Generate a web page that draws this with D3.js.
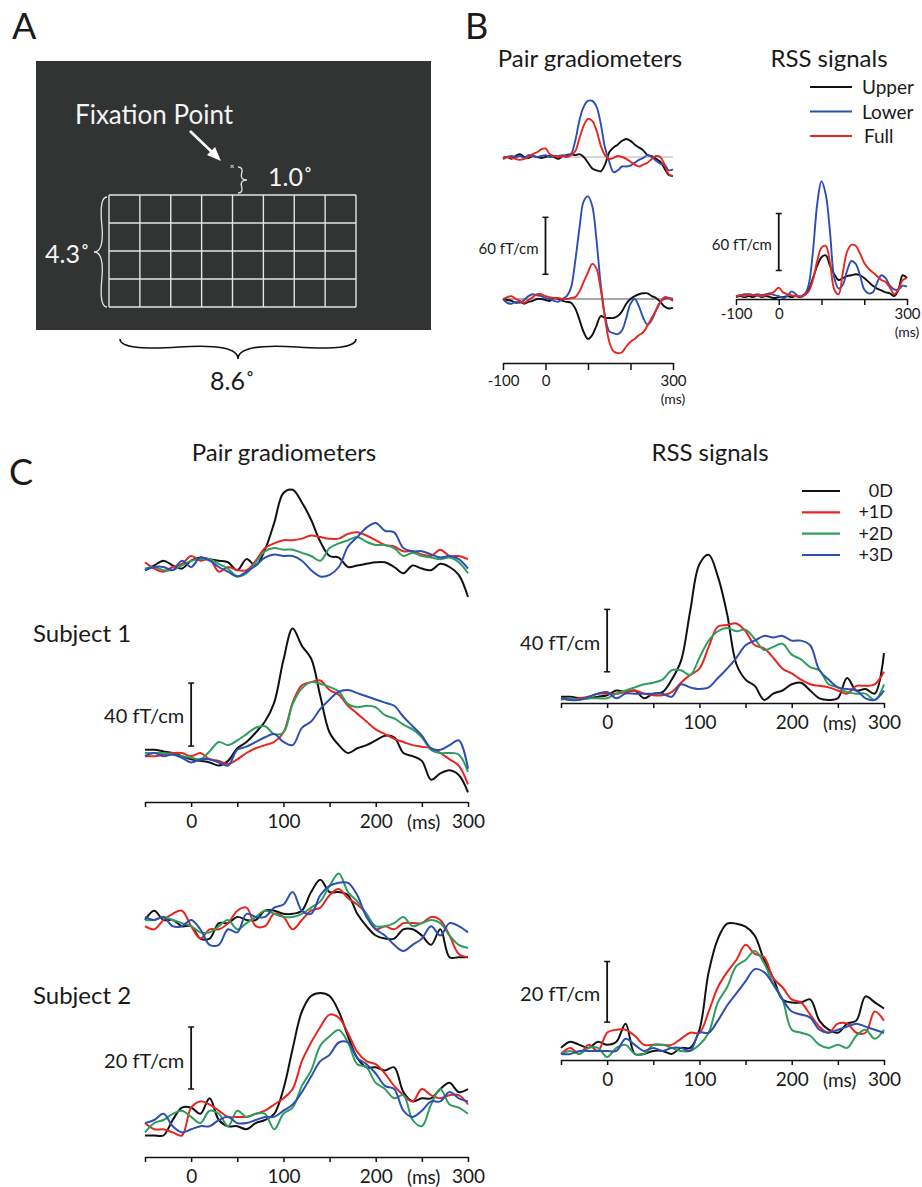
<!DOCTYPE html>
<html>
<head>
<meta charset="utf-8">
<script src="https://cdn.jsdelivr.net/npm/d3@7"></script>
<style>
  body { margin: 0; background: #fff; }
  text { font-family: Lato, "Open Sans", sans-serif; fill: #1a1a1a; }
</style>
</head>
<body>
<svg id="fig" width="922" height="1187"></svg>
<script>
// ---- data: stimulus grid (panel A)
var gridCols = 8;
var gridRows = 4;

// ---- data: panel B, sampled every 10 ms
var timesB = [-100,-90,-80,-70,-60,-50,-40,-30,-20,-10,0,10,20,30,40,50,60,70,80,90,100,110,120,130,140,150,160,170,180,190,200,210,220,230,240,250,260,270,280,290,300];
var bLabels = ["Upper", "Lower", "Full"];
var bColors = ["#111111", "#2d4fb4", "#e8261f"];

var bUpperBlack = [-1,0,-2,1,3,0,-1,1,0,-1, 0,1,0,-2,1,2,3,2,3,0, -6,-12,-14,-15,-8,5,10,13,17,19, 17,13,10,7,2,1,-2,-5,-12,-19, -20];
var bUpperBlue  = [-2,0,1,0,1,-1,2,1,0,1, 2,0,1,1,2,1,3,17,39,53, 59,59,53,35,10,-5,-16,-14,-10,-10, -9,-6,-3,-1,2,0,-4,-7,-8,-14, -13];
var bUpperRed   = [-2,0,-1,-2,-3,-2,0,3,5,8, 9,3,1,0,1,0,2,6,20,33, 40,38,28,12,2,-2,-1,1,0,-2, -5,-8,-10,-8,-6,-2,1,0,-8,-18, -20];

var bLowerBlack = [0,-1,-2,-4,-3,-5,-3,-2,0,0, -1,-2,1,0,-2,-3,-4,-10,-22,-35, -42,-38,-28,-18,-20,-20,-20,-18,-13,-5, 0,3,5,6,6,3,1,-3,-8,-10, -9];
var bLowerBlue  = [0,-4,-5,-3,-4,-1,3,5,4,3, 1,0,-2,-3,0,3,12,40,75,103, 108,98,62,15,-18,-34,-36,-37,-33,-20, -5,0,-8,-20,-27,-22,-12,-3,0,1, 0];
var bLowerRed   = [0,2,3,0,-2,-4,-1,2,5,5, 3,2,1,1,0,0,1,2,8,18, 28,37,32,10,-20,-45,-55,-57,-56,-50, -45,-42,-38,-35,-28,-20,-12,-4,2,1, -2];

var bRssBlack = [2,3,2,3,2,4,2,3,2,1, 2,2,3,2,3,2,5,10,22,35, 44,46,35,26,20,22,24,25,26,25, 22,18,14,11,9,7,6,3,10,25, 22];
var bRssBlue  = [3,4,5,5,4,5,4,5,6,4, 3,1,3,8,5,2,4,15,50,100, 124,110,70,22,11,15,30,40,37,25, 10,6,7,17,25,22,14,10,10,14, 13];
var bRssRed   = [3,4,3,5,4,4,3,4,5,8, 12,7,5,4,3,3,4,8,20,40, 54,56,38,10,5,28,50,57,56,48, 38,32,28,24,20,18,12,5,10,20, 22];

var bTicks = [-100, 0, 100, 200, 300];
var bTickLabels = ["-100", "0", "", "", "300"];

// ---- data: panel C, sampled every 10 ms
var timesC = [-50,-40,-30,-20,-10,0,10,20,30,40,50,60,70,80,90,100,110,120,130,140,150,160,170,180,190,200,210,220,230,240,250,260,270,280,290,300];
var cLabels = ["0D", "+1D", "+2D", "+3D"];
var cColors = ["#111111", "#e8261f", "#2e9e5e", "#2d4fb4"];

// subject 1, gradiometer pair (upper / lower channel)
var c1UpperK = [-2,1,4,1,-1, 4,6,5,4,3, -2,5,1,11,28, 47,49,41,30,16, 7,6,0,1,2, 3,3,0,-4,1, -1,-2,2,0,-5, -19];
var c1UpperR = [3,-1,-3,0,2, 7,4,5,-3,0, -2,-2,4,12,15, 17,17,18,20,19, 18,18,21,22,20, 17,14,13,10,10, 8,7,11,7,7, 5];
var c1UpperG = [-1,0,-2,-2,1, 4,5,5,2,-1, -6,-4,3,10,12, 11,11,9,7,4, 12,15,17,19,16, 14,14,12,7,9, 7,6,5,6,3, -4];
var c1UpperB = [-2,0,0,-2,4, 0,6,4,0,-3, -6,-3,1,6,8, 7,7,4,-2,-6, -5,0,13,19,25, 28,23,22,12,10, 10,8,6,7,5, -1];

var c1LowerK = [2,2,1,0,-2, -4,-5,-6,-8,-5, 3,7,13,20,32, 59,79,68,60,36, 13,5,0,3,5, 8,11,10,0,-2, -5,-17,-13,-11,-14, -25];
var c1LowerR = [-2,-2,-1,0,0, -2,0,-4,-5,-7, -4,0,3,5,7, 13,32,43,45,46, 40,37,30,25,20, 15,12,9,7,5, 4,3,0,-4,-8, -20];
var c1LowerG = [0,0,0,-1,-2, -3,-4,1,7,5, 8,12,16,17,12, 13,31,41,45,44, 42,39,31,29,30, 29,24,22,18,15, 10,2,0,0,-1, -12];
var c1LowerB = [-2,0,-2,-1,-3, -6,-4,-4,-6,-8, 2,4,7,10,12, 7,5,16,20,28, 34,39,40,38,36, 34,32,30,23,17, 11,3,2,5,8, -10];

// subject 1, RSS
var c1RssK = [4,4,3,3,4, 5,8,7,8,3, 6,7,15,27,59, 89,95,81,57,25, 15,11,2,6,8, 12,13,8,3,2, 3,16,8,9,6, 32];
var c1RssR = [3,2,3,4,6, 6,6,7,8,6, 5,5,7,13,18, 22,36,49,50,51, 46,37,35,29,22, 19,15,12,11,10, 8,6,11,11,12, 20];
var c1RssG = [2,3,2,3,3, 3,6,8,10,12, 13,15,21,21,18, 29,40,46,48,46, 47,41,34,36,38, 31,28,23,21,12, 10,7,6,6,2, 12];
var c1RssB = [3,2,2,4,6, 7,3,6,6,6, 6,6,4,12,10, 9,10,16,22,29, 37,40,43,42,43, 40,40,37,21,15, 10,9,8,3,2, 8];

// subject 2, gradiometer pair
var c2UpperK = [0,3,0,0,-2, -2,-6,-6,-1,-1, 1,0,0,3,3, 2,2,3,9,13, 9,9,8,2,-2, -5,-6,-6,-3,-3, -5,-8,-3,-12,-12, -12];
var c2UpperR = [-2,-3,0,2,3, -2,-6,-3,-3,-1, 3,4,-2,-2,2, 1,-3,0,3,4, 8,10,7,5,2, -3,-2,-3,-1,-1, -1,1,0,-5,-11, -12];
var c2UpperG = [0,0,1,0,-1, -2,-4,-4,-2,0, -3,-1,1,3,2, 1,1,2,4,6, 11,15,9,6,2, -2,-2,-1,1,-2, -1,0,-1,-5,-8, -9];
var c2UpperB = [1,0,1,-2,-2, 0,-3,-8,-8,-3, -4,2,1,1,4, 5,9,3,2,8, 11,12,12,8,1, -3,-5,-8,-10,-8, -6,-2,-5,-1,-2, -4];

var c2LowerK = [-5,-5,-5,0,4, 4,2,7,0,-2, -2,-3,-1,0,2, 10,23,35,40,41, 40,35,27,20,17, 17,16,17,9,6, 7,7,10,12,9, 10];
var c2LowerR = [-1,-3,-3,-4,-5, 4,6,5,3,1, 1,1,2,3,5, 7,10,19,25,30, 34,33,28,22,19, 18,15,11,8,6, 10,8,7,8,8, 5];
var c2LowerG = [-4,-1,0,2,3, 1,-1,3,2,-2, 3,1,2,2,-3, 2,4,11,16,24, 27,29,25,18,17, 12,10,7,8,0, -2,5,10,5,4, 2];
var c2LowerB = [-1,0,2,-2,-4, -3,-2,-2,0,1, -1,-1,0,1,1, 3,5,9,14,19, 21,25,25,20,18, 15,11,10,3,1, 3,6,6,9,7, 6];

// subject 2, RSS
var c2RssK = [4,6,5,4,6, 5,6,12,2,2, 3,3,2,4,4, 10,29,40,45,45, 44,41,33,27,20, 19,19,20,13,10, 9,12,13,21,19, 17];
var c2RssR = [2,4,2,5,3, 9,10,10,8,5, 5,5,5,7,9, 9,16,24,29,33, 38,35,34,27,24, 20,19,15,11,9, 12,12,9,9,16, 13];
var c2RssG = [2,3,2,4,4, 1,4,5,2,2, 5,5,4,3,3, 5,9,19,24,31, 33,36,32,25,20, 10,9,8,5,4, 5,4,8,10,7, 10];
var c2RssB = [2,2,3,3,3, 3,3,7,5,3, 4,3,4,4,3, 9,9,13,18,22, 26,30,29,25,20, 16,15,14,10,9, 10,11,12,11,10, 9];

var cTicks = [-50, 0, 50, 100, 150, 200, 250, 300];
var cTickLabels = ["", "0", "", "100", "", "200", "", "300"];

var svg = d3.select("#fig");

// ---------- helpers
function drawTraces(xs, ys, times, seriesList, colors, width) {
    var line = d3.line()
        .x(function (d, i) { return xs(times[i]); })
        .y(function (d) { return ys(d); })
        .curve(d3.curveCatmullRom.alpha(0.5));
    seriesList.forEach(function (s, i) {
        svg.append("path")
            .datum(s)
            .attr("d", line)
            .attr("fill", "none")
            .attr("stroke", colors[i])
            .attr("stroke-width", width)
            .attr("stroke-linejoin", "round");
    });
}

function drawAxis(y, xs, ticks, labels, tickLen, pad, fontSize) {
    var g = svg.append("g")
        .attr("transform", "translate(0," + y + ")")
        .call(d3.axisBottom(xs)
            .tickValues(ticks)
            .tickSize(tickLen)
            .tickSizeOuter(0)
            .tickPadding(pad)
            .tickFormat(function (d, i) { return labels[i]; }));
    g.attr("font-family", "Lato").attr("font-size", fontSize);
    g.select(".domain").attr("stroke", "#111").attr("stroke-width", 1.5);
    g.selectAll(".tick line").attr("stroke", "#111").attr("stroke-width", 1.5);
    g.selectAll(".tick text").attr("fill", "#1a1a1a");
    return g;
}

function scaleBar(x, ys, v0, v1, label, labelY, fontSize) {
    svg.append("line")
        .attr("x1", x).attr("x2", x)
        .attr("y1", ys(v0)).attr("y2", ys(v1))
        .attr("stroke", "#111").attr("stroke-width", 1.8);
    [v0, v1].forEach(function (v) {
        svg.append("line")
            .attr("x1", x - 3).attr("x2", x + 3)
            .attr("y1", ys(v)).attr("y2", ys(v))
            .attr("stroke", "#111").attr("stroke-width", 1.5);
    });
    svg.append("text")
        .attr("x", x - 7).attr("y", labelY)
        .attr("text-anchor", "end")
        .attr("font-size", fontSize)
        .text(label);
}

function bracePath(x1, y1, x2, y2, w, q) {
    var dx = x1 - x2, dy = y1 - y2;
    var len = Math.sqrt(dx * dx + dy * dy);
    dx = dx / len; dy = dy / len;
    var qx1 = x1 + q * w * dy, qy1 = y1 - q * w * dx;
    var qx2 = (x1 - 0.25 * len * dx) + (1 - q) * w * dy;
    var qy2 = (y1 - 0.25 * len * dy) - (1 - q) * w * dx;
    var tx1 = (x1 - 0.5 * len * dx) + w * dy;
    var ty1 = (y1 - 0.5 * len * dy) - w * dx;
    var qx3 = x2 + q * w * dy, qy3 = y2 - q * w * dx;
    var qx4 = (x1 - 0.75 * len * dx) + (1 - q) * w * dy;
    var qy4 = (y1 - 0.75 * len * dy) - (1 - q) * w * dx;
    return "M" + x1 + "," + y1 + " Q" + qx1 + "," + qy1 + " " + qx2 + "," + qy2 + " T" + tx1 + "," + ty1 +
        " M" + x2 + "," + y2 + " Q" + qx3 + "," + qy3 + " " + qx4 + "," + qy4 + " T" + tx1 + "," + ty1;
}

function panelLetter(x, y, s) {
    svg.append("text").attr("x", x).attr("y", y)
        .attr("font-family", "'Liberation Sans', Arial, sans-serif")
        .attr("font-size", 36).text(s);
}

// ---------- panel A
panelLetter(12, 39, "A");

svg.append("rect")
    .attr("x", 36).attr("y", 61)
    .attr("width", 395).attr("height", 269)
    .attr("fill", "#323333");

var gridX = d3.scaleLinear().domain([0, gridCols]).range([109, 356]);
var gridY = d3.scaleLinear().domain([0, gridRows]).range([195, 307]);

d3.range(gridCols + 1).forEach(function (c) {
    svg.append("line")
        .attr("x1", gridX(c)).attr("x2", gridX(c))
        .attr("y1", gridY(0)).attr("y2", gridY(gridRows))
        .attr("stroke", "#e4e4e4").attr("stroke-width", 1.4);
});
d3.range(gridRows + 1).forEach(function (r) {
    svg.append("line")
        .attr("x1", gridX(0)).attr("x2", gridX(gridCols))
        .attr("y1", gridY(r)).attr("y2", gridY(r))
        .attr("stroke", "#e4e4e4").attr("stroke-width", 1.4);
});

// braces
svg.append("path").attr("d", bracePath(107, 197, 107, 307, 13, 0.6))
    .attr("fill", "none").attr("stroke", "#e4e4e4").attr("stroke-width", 1.3);
svg.append("path").attr("d", bracePath(238, 193, 238, 167, 9, 0.6))
    .attr("fill", "none").attr("stroke", "#e4e4e4").attr("stroke-width", 1.3);
svg.append("path").attr("d", bracePath(120, 339, 356, 339, 20, 0.6))
    .attr("fill", "none").attr("stroke", "#111").attr("stroke-width", 1.6);

// arrow to fixation point
svg.append("line")
    .attr("x1", 190).attr("y1", 131).attr("x2", 214).attr("y2", 154)
    .attr("stroke", "#fff").attr("stroke-width", 2.6);
svg.append("path")
    .attr("d", "M221,161 L207,155 L215,147 Z")
    .attr("fill", "#fff");
svg.append("text").attr("x", 232).attr("y", 169)
    .attr("text-anchor", "middle").attr("font-size", 8)
    .style("fill", "#fff").text("×");

svg.append("text").attr("x", 75).attr("y", 124).attr("font-size", 26)
    .style("fill", "#f4f4f4").text("Fixation Point");
svg.append("text").attr("x", 268).attr("y", 186).attr("font-size", 25)
    .style("fill", "#f4f4f4").text("1.0˚");
svg.append("text").attr("x", 45).attr("y", 263).attr("font-size", 25)
    .style("fill", "#f4f4f4").text("4.3˚");
svg.append("text").attr("x", 210).attr("y", 390).attr("font-size", 25)
    .text("8.6˚");

// ---------- panel B
panelLetter(465, 39, "B");
svg.append("text").attr("x", 590).attr("y", 67).attr("text-anchor", "middle")
    .attr("font-size", 24).text("Pair gradiometers");
svg.append("text").attr("x", 829).attr("y", 67).attr("text-anchor", "middle")
    .attr("font-size", 24).text("RSS signals");

var xB = d3.scaleLinear().domain([-100, 300]).range([503, 673]);
var yBUpper = d3.scaleLinear().domain([0, 60]).range([157, 100]);
var yBLower = d3.scaleLinear().domain([0, 60]).range([299, 242]);
var xBR = d3.scaleLinear().domain([-100, 300]).range([736, 907]);
var yBR = d3.scaleLinear().domain([0, 60]).range([299, 242]);

svg.append("line").attr("x1", xB(-100)).attr("x2", xB(300))
    .attr("y1", yBUpper(0)).attr("y2", yBUpper(0))
    .attr("stroke", "#c9c9c9").attr("stroke-width", 1.3);
svg.append("line").attr("x1", xB(-100)).attr("x2", xB(300))
    .attr("y1", yBLower(0)).attr("y2", yBLower(0))
    .attr("stroke", "#8d8d8d").attr("stroke-width", 1.3);

drawTraces(xB, yBUpper, timesB, [bUpperBlack, bUpperBlue, bUpperRed], bColors, 1.9);
drawTraces(xB, yBLower, timesB, [bLowerBlack, bLowerBlue, bLowerRed], bColors, 1.9);
drawTraces(xBR, yBR, timesB, [bRssBlack, bRssBlue, bRssRed], bColors, 1.9);

drawAxis(363, xB, bTicks, bTickLabels, 7, 5, 15);
svg.append("text").attr("x", xB(300)).attr("y", 404).attr("text-anchor", "middle")
    .attr("font-size", 14).text("(ms)");
drawAxis(299, xBR, bTicks, bTickLabels, 6, 3, 15);
svg.append("text").attr("x", xBR(300)).attr("y", 337).attr("text-anchor", "middle")
    .attr("font-size", 14).text("(ms)");

scaleBar(xB(0), yBLower, 26, 86, "60 fT/cm", 254, 15);
scaleBar(xBR(0), yBR, 30, 90, "60 fT/cm", 250, 15);

// legend B
var legBY = d3.scalePoint().domain(bLabels).range([87, 136]);
bLabels.forEach(function (name, i) {
    svg.append("line")
        .attr("x1", 810).attr("x2", 852)
        .attr("y1", legBY(name)).attr("y2", legBY(name))
        .attr("stroke", bColors[i]).attr("stroke-width", 2.2);
    svg.append("text")
        .attr("x", i === 2 ? 864 : 862).attr("y", legBY(name) + 7)
        .attr("font-size", 19).text(name);
});

// ---------- panel C
panelLetter(9, 485, "C");
svg.append("text").attr("x", 284).attr("y", 461).attr("text-anchor", "middle")
    .attr("font-size", 24).text("Pair gradiometers");
svg.append("text").attr("x", 710).attr("y", 461).attr("text-anchor", "middle")
    .attr("font-size", 24).text("RSS signals");

svg.append("text").attr("x", 33).attr("y", 642).attr("font-size", 24).text("Subject 1");
svg.append("text").attr("x", 33).attr("y", 1004).attr("font-size", 24).text("Subject 2");

var xC = d3.scaleLinear().domain([-50, 300]).range([145, 468]);
var xCR = d3.scaleLinear().domain([-50, 300]).range([561, 884]);

var y1Upper = d3.scaleLinear().domain([0, 40]).range([567, 504]);
var y1Lower = d3.scaleLinear().domain([0, 40]).range([753, 690]);
var y1Rss = d3.scaleLinear().domain([0, 40]).range([703, 640.6]);
var y2Upper = d3.scaleLinear().domain([0, 20]).range([920, 858]);
var y2Lower = d3.scaleLinear().domain([0, 20]).range([1120, 1058]);
var y2Rss = d3.scaleLinear().domain([0, 20]).range([1060, 999.4]);

drawTraces(xC, y1Upper, timesC, [c1UpperK, c1UpperR, c1UpperG, c1UpperB], cColors, 2);
drawTraces(xC, y1Lower, timesC, [c1LowerK, c1LowerR, c1LowerG, c1LowerB], cColors, 2);
drawTraces(xCR, y1Rss, timesC, [c1RssK, c1RssR, c1RssG, c1RssB], cColors, 2);
drawTraces(xC, y2Upper, timesC, [c2UpperK, c2UpperR, c2UpperG, c2UpperB], cColors, 2);
drawTraces(xC, y2Lower, timesC, [c2LowerK, c2LowerR, c2LowerG, c2LowerB], cColors, 2);
drawTraces(xCR, y2Rss, timesC, [c2RssK, c2RssR, c2RssG, c2RssB], cColors, 2);

[[802, xC], [703, xCR], [1157, xC], [1060, xCR]].forEach(function (a) {
    drawAxis(a[0], a[1], cTicks, cTickLabels, 5, 8, 19);
    svg.append("text").attr("x", a[1](252)).attr("y", a[0] + 27)
        .attr("text-anchor", "middle").attr("font-size", 19).text("(ms)");
});

scaleBar(xC(0), y1Lower, 4.4, 44.4, "40 fT/cm", 723, 20);
scaleBar(xCR(0), y1Rss, 20, 60, "40 fT/cm", 650, 20);
scaleBar(xC(0), y2Lower, 10, 30, "20 fT/cm", 1068, 20);
scaleBar(xCR(0), y2Rss, 12.5, 32.5, "20 fT/cm", 1001, 20);

// legend C
var legCY = d3.scalePoint().domain(cLabels).range([491, 555]);
cLabels.forEach(function (name, i) {
    svg.append("line")
        .attr("x1", 802).attr("x2", 840)
        .attr("y1", legCY(name)).attr("y2", legCY(name))
        .attr("stroke", cColors[i]).attr("stroke-width", 2.2);
    svg.append("text")
        .attr("x", 893).attr("y", legCY(name) + 6)
        .attr("text-anchor", "end")
        .attr("font-size", 18).text(name);
});
</script>
</body>
</html>
